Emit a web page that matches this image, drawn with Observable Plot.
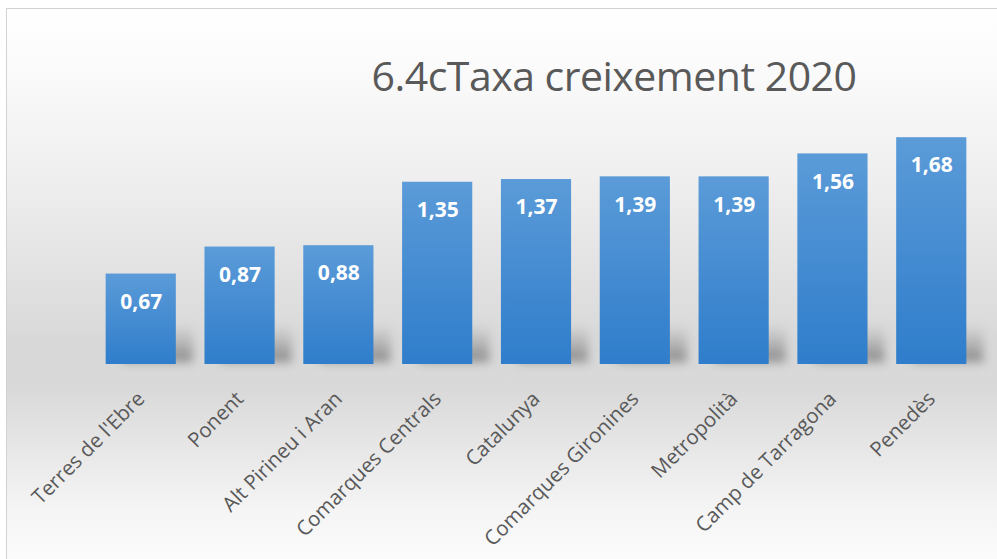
<!DOCTYPE html>
<html><head><meta charset="utf-8">
<script src="https://cdn.jsdelivr.net/npm/d3@7"></script>
<script src="https://cdn.jsdelivr.net/npm/@observablehq/plot@0.6"></script>
<style>
body{margin:0;background:#fff;}
#wrap{position:relative;width:997px;height:559px;overflow:hidden;background:#fff}
#frame{position:absolute;left:6px;top:8px;width:1000px;height:560px;border:1.5px solid #d2d2d2;box-sizing:border-box;
background:linear-gradient(to bottom,#ffffff 0%,#fbfbfb 10%,#efefef 30%,#e0e0e0 50%,#d8d8d8 60%,#d9d9d9 68%,#e6e6e6 78%,#f5f5f5 90%,#fcfcfc 100%)}
#title{position:absolute;left:614px;top:47px;transform:translateX(-50%);white-space:nowrap;font-family:'Open Sans',sans-serif;font-size:41px;color:#595959;letter-spacing:-0.5px}
#chart{position:absolute;left:0;top:0}
</style></head>
<body>
<div id="wrap"><div id="frame"></div><div id="title">6.4cTaxa creixement 2020</div><div id="chart"></div></div>
<script>
const categories = ["Terres de l'Ebre","Ponent","Alt Pirineu i Aran","Comarques Centrals","Catalunya","Comarques Gironines","Metropolità","Camp de Tarragona","Penedès"];
const values = [0.67,0.87,0.88,1.35,1.37,1.39,1.39,1.56,1.68];
const data = categories.map((c,i)=>({cat:c,val:values[i]}));
const fmt = v => v.toFixed(2).replace(".", ",");
const shadowDepth = 0.28;

const defs = () => {
  const ns = "http://www.w3.org/2000/svg";
  const d = document.createElementNS(ns,"defs");
  d.innerHTML = `<linearGradient id="barg" x1="0" y1="0" x2="0" y2="1"><stop offset="0" stop-color="#5b9bd8"/><stop offset="1" stop-color="#2f7dcb"/></linearGradient>
  <linearGradient id="shg" x1="0" y1="0" x2="0" y2="1"><stop offset="0" stop-color="#777" stop-opacity="0"/><stop offset="1" stop-color="#555" stop-opacity="0.6"/></linearGradient>`;
  return d;
};

const chart = Plot.plot({
  width: 997, height: 559,
  marginLeft: 77, marginRight: 2, marginTop: 94, marginBottom: 195,
  style: {background: "transparent", fontFamily: "'Open Sans',sans-serif"},
  x: {domain: categories, padding: 0.29, round: false, label: null},
  y: {domain: [0, 2], axis: null},
  marks: [
    defs,
    Plot.barY(data, {x: "cat", y: d => Math.min(d.val, shadowDepth), dx: 17, dy: -2, fill: "url(#shg)", imageFilter: "blur(5px)"}),
    Plot.barY(data, {x: "cat", y: "val", fill: "url(#barg)"}),
    Plot.text(data, {x: "cat", y: "val", text: d => fmt(d.val), dy: 28, fill: "white", fontWeight: "bold", fontSize: 21}),
    Plot.axisX({tickSize: 0, tickPadding: 31, tickRotate: -45, fontSize: 20.5, fill: "#595959", label: null})
  ]
});
document.getElementById("chart").appendChild(chart);
</script>
</body></html>
